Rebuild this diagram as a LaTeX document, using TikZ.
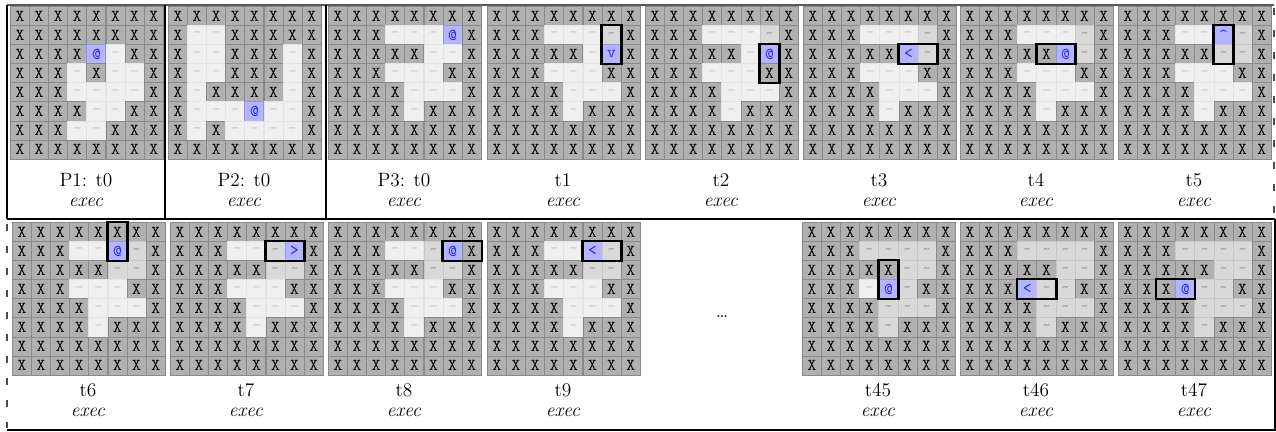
\documentclass[tikz,border=0pt]{standalone}
\usepackage{xcolor}
\usepackage{tikz}

\definecolor{wallfill}{HTML}{B0B0B0}
\definecolor{wallline}{HTML}{8A8A8A}
\definecolor{floorfill}{HTML}{F0F0F0}
\definecolor{floorline}{HTML}{E4E4E4}
\definecolor{floormark}{HTML}{CDCDCD}
\definecolor{seenfill}{HTML}{D9D9D9}
\definecolor{seenline}{HTML}{C8C8C8}
\definecolor{seenmark}{HTML}{9C9C9C}
\definecolor{agentfill}{HTML}{B4B4FF}
\definecolor{agentline}{HTML}{9494E6}
\definecolor{agenttext}{HTML}{2424FF}

% cell glyphs: X wall, o floor, t trail, a/l/r/u/d agent
\def\mzX{X}
\def\mzo{-}
\def\mzt{\raisebox{-0.35ex}{\textasciitilde}}
\def\mza{@}
\def\mzl{<}
\def\mzr{>}
\def\mzu{\textasciicircum}
\def\mzd{v}

\tikzset{
  cell/.style={anchor=north west, minimum size=0.382cm, inner sep=0pt,
               line width=0.5pt, font=\fontsize{9.5}{9.5}\selectfont\ttfamily},
  cellX/.style={cell, fill=wallfill, draw=wallline, text=black},
  cello/.style={cell, fill=floorfill, draw=floorline, text=floormark},
  cellt/.style={cell, fill=seenfill, draw=seenline, text=seenmark},
  agent/.style={cell, fill=agentfill, draw=agentline, text=agenttext},
  cella/.style={agent}, celll/.style={agent}, cellr/.style={agent},
  cellu/.style={agent}, celld/.style={agent},
  actbox/.style={draw=black, line width=1.3pt},
  lbl/.style={align=center, font=\fontsize{11}{11.5}\selectfont},
  rule/.style={line width=0.8pt},
  dashrule/.style={line width=1pt, black!70, dash pattern=on 4pt off 8.5pt}
}

% #1 name, #2 left, #3 top, #4 rows
\newcommand{\maze}[4]{%
  \foreach \cells [count=\ri from 0] in {#4} {%
    \foreach \kind [count=\ci from 0] in \cells {%
      \node[cell\kind] (#1-\ri-\ci) at ({#2+\ci*19.1},{#3+\ri*19.1}) {\csname mz\kind\endcsname};
    }%
  }%
}

\begin{document}
\begin{tikzpicture}[x=0.02cm, y=-0.02cm]
  \useasboundingbox (0,0) rectangle (1276,432);

  % top row
  \maze{p1}{10}{6}{%
    {X,X,X,X,X,X,X,X},%
    {X,X,X,X,X,X,X,X},%
    {X,X,X,X,a,o,X,X},%
    {X,X,X,o,X,o,o,X},%
    {X,X,X,o,o,o,o,X},%
    {X,X,X,X,o,o,X,X},%
    {X,X,X,o,o,X,X,X},%
    {X,X,X,X,X,X,X,X}}
  \maze{p2}{168}{6}{%
    {X,X,X,X,X,X,X,X},%
    {X,o,o,X,X,X,X,X},%
    {X,o,o,X,X,X,o,X},%
    {X,o,o,X,X,X,o,X},%
    {X,o,X,X,X,X,o,X},%
    {X,o,o,o,a,o,o,X},%
    {X,o,X,o,o,o,o,X},%
    {X,X,X,X,X,X,X,X}}
  \maze{p3}{328}{6}{%
    {X,X,X,X,X,X,X,X},%
    {X,X,X,o,o,o,a,X},%
    {X,X,X,X,X,o,o,X},%
    {X,X,X,o,o,o,X,X},%
    {X,X,X,X,o,o,o,X},%
    {X,X,X,X,o,X,X,X},%
    {X,X,X,X,X,X,X,X},%
    {X,X,X,X,X,X,X,X}}
  \maze{t1}{487}{6}{%
    {X,X,X,X,X,X,X,X},%
    {X,X,X,o,o,o,t,X},%
    {X,X,X,X,X,o,d,X},%
    {X,X,X,o,o,o,X,X},%
    {X,X,X,X,o,o,o,X},%
    {X,X,X,X,o,X,X,X},%
    {X,X,X,X,X,X,X,X},%
    {X,X,X,X,X,X,X,X}}
  \maze{t2}{645}{6}{%
    {X,X,X,X,X,X,X,X},%
    {X,X,X,o,o,o,t,X},%
    {X,X,X,X,X,o,a,X},%
    {X,X,X,o,o,o,X,X},%
    {X,X,X,X,o,o,o,X},%
    {X,X,X,X,o,X,X,X},%
    {X,X,X,X,X,X,X,X},%
    {X,X,X,X,X,X,X,X}}
  \maze{t3}{803}{6}{%
    {X,X,X,X,X,X,X,X},%
    {X,X,X,o,o,o,t,X},%
    {X,X,X,X,X,l,t,X},%
    {X,X,X,o,o,o,X,X},%
    {X,X,X,X,o,o,o,X},%
    {X,X,X,X,o,X,X,X},%
    {X,X,X,X,X,X,X,X},%
    {X,X,X,X,X,X,X,X}}
  \maze{t4}{960}{6}{%
    {X,X,X,X,X,X,X,X},%
    {X,X,X,o,o,o,t,X},%
    {X,X,X,X,X,a,t,X},%
    {X,X,X,o,o,o,X,X},%
    {X,X,X,X,o,o,o,X},%
    {X,X,X,X,o,X,X,X},%
    {X,X,X,X,X,X,X,X},%
    {X,X,X,X,X,X,X,X}}
  \maze{t5}{1118}{6}{%
    {X,X,X,X,X,X,X,X},%
    {X,X,X,o,o,u,t,X},%
    {X,X,X,X,X,t,t,X},%
    {X,X,X,o,o,o,X,X},%
    {X,X,X,X,o,o,o,X},%
    {X,X,X,X,o,X,X,X},%
    {X,X,X,X,X,X,X,X},%
    {X,X,X,X,X,X,X,X}}

  % bottom row
  \maze{t6}{12}{222}{%
    {X,X,X,X,X,X,X,X},%
    {X,X,X,o,o,a,t,X},%
    {X,X,X,X,X,t,t,X},%
    {X,X,X,o,o,o,X,X},%
    {X,X,X,X,o,o,o,X},%
    {X,X,X,X,o,X,X,X},%
    {X,X,X,X,X,X,X,X},%
    {X,X,X,X,X,X,X,X}}
  \maze{t7}{170}{222}{%
    {X,X,X,X,X,X,X,X},%
    {X,X,X,o,o,t,r,X},%
    {X,X,X,X,X,t,t,X},%
    {X,X,X,o,o,o,X,X},%
    {X,X,X,X,o,o,o,X},%
    {X,X,X,X,o,X,X,X},%
    {X,X,X,X,X,X,X,X},%
    {X,X,X,X,X,X,X,X}}
  \maze{t8}{328}{222}{%
    {X,X,X,X,X,X,X,X},%
    {X,X,X,o,o,t,a,X},%
    {X,X,X,X,X,t,t,X},%
    {X,X,X,o,o,o,X,X},%
    {X,X,X,X,o,o,o,X},%
    {X,X,X,X,o,X,X,X},%
    {X,X,X,X,X,X,X,X},%
    {X,X,X,X,X,X,X,X}}
  \maze{t9}{487}{222}{%
    {X,X,X,X,X,X,X,X},%
    {X,X,X,o,o,l,t,X},%
    {X,X,X,X,X,t,t,X},%
    {X,X,X,o,o,o,X,X},%
    {X,X,X,X,o,o,o,X},%
    {X,X,X,X,o,X,X,X},%
    {X,X,X,X,X,X,X,X},%
    {X,X,X,X,X,X,X,X}}
  \maze{t45}{802}{222}{%
    {X,X,X,X,X,X,X,X},%
    {X,X,X,t,t,t,t,X},%
    {X,X,X,X,X,t,t,X},%
    {X,X,X,o,a,t,X,X},%
    {X,X,X,X,t,t,t,X},%
    {X,X,X,X,t,X,X,X},%
    {X,X,X,X,X,X,X,X},%
    {X,X,X,X,X,X,X,X}}
  \maze{t46}{960}{222}{%
    {X,X,X,X,X,X,X,X},%
    {X,X,X,t,t,t,t,X},%
    {X,X,X,X,X,t,t,X},%
    {X,X,X,l,t,t,X,X},%
    {X,X,X,X,t,t,t,X},%
    {X,X,X,X,t,X,X,X},%
    {X,X,X,X,X,X,X,X},%
    {X,X,X,X,X,X,X,X}}
  \maze{t47}{1118}{222}{%
    {X,X,X,X,X,X,X,X},%
    {X,X,X,t,t,t,t,X},%
    {X,X,X,X,X,t,t,X},%
    {X,X,X,a,t,t,X,X},%
    {X,X,X,X,t,t,t,X},%
    {X,X,X,X,t,X,X,X},%
    {X,X,X,X,X,X,X,X},%
    {X,X,X,X,X,X,X,X}}

  % action boxes
  \draw[actbox] (t1-1-6.north west) rectangle (t1-2-6.south east);
  \draw[actbox] (t2-2-6.north west) rectangle (t2-3-6.south east);
  \draw[actbox] (t3-2-5.north west) rectangle (t3-2-6.south east);
  \draw[actbox] (t4-2-4.north west) rectangle (t4-2-5.south east);
  \draw[actbox] (t5-1-5.north west) rectangle (t5-2-5.south east);
  \draw[actbox] (t6-0-5.north west) rectangle (t6-1-5.south east);
  \draw[actbox] (t7-1-5.north west) rectangle (t7-1-6.south east);
  \draw[actbox] (t8-1-6.north west) rectangle (t8-1-7.south east);
  \draw[actbox] (t9-1-5.north west) rectangle (t9-1-6.south east);
  \draw[actbox] (t45-2-4.north west) rectangle (t45-3-4.south east);
  \draw[actbox] (t46-3-3.north west) rectangle (t46-3-4.south east);
  \draw[actbox] (t47-3-2.north west) rectangle (t47-3-3.south east);

  % captions
  \foreach \id/\cx/\cap in {p1/86/P1: t0, p2/244/P2: t0, p3/404/P3: t0,
      t1/563/t1, t2/721/t2, t3/879/t3, t4/1036/t4, t5/1194/t5}
    \node[lbl] (lab-\id) at (\cx,190) {\cap\\\textit{exec}};
  \foreach \id/\cx/\cap in {t6/88/t6, t7/246/t7, t8/404/t8, t9/563/t9,
      t45/878/t45, t46/1036/t46, t47/1194/t47}
    \node[lbl] (lab-\id) at (\cx,400) {\cap\\\textit{exec}};
  \node[lbl, anchor=base] (skip) at (722,318) {\dots};

  % frame
  \draw[line width=1.2pt, black!65] (7,5) -- (1274,5);
  \draw[rule] (7,5) -- (7,219);
  \draw[rule] (165,5) -- (165,219);
  \draw[rule] (326,5) -- (326,219);
  \draw[rule] (7,219) -- (1275,219);
  \draw[rule] (1275,219) -- (1275,430) -- (7,430);
  \draw[dashrule] (1274,8) -- (1274,216);
  \draw[dashrule] (7,224) -- (7,428);
\end{tikzpicture}
\end{document}
